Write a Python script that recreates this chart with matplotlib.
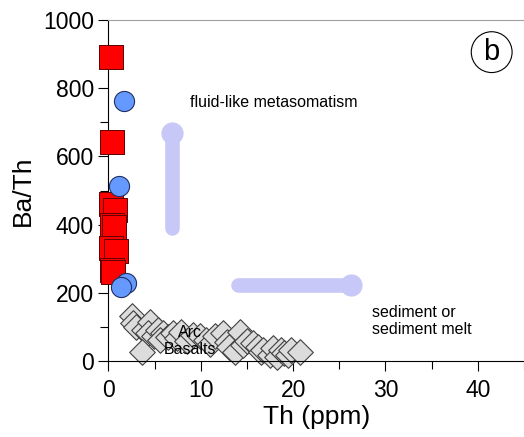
import matplotlib
matplotlib.use("Agg")
import matplotlib.pyplot as plt
from matplotlib.ticker import MultipleLocator

plt.rcParams['font.family'] = ['Liberation Sans', 'DejaVu Sans']

# Red squares
sq_th = [0.3, 0.4, 0.3, 0.7, 0.4, 0.6, 0.3, 0.8, 0.4, 0.5]
sq_bath = [893, 642, 460, 443, 400, 392, 330, 322, 268, 262]

# Blue circles
ci_th = [1.7, 1.15, 1.9, 1.35]
ci_bath = [762, 513, 228, 216]

# Arc basalts (grey diamonds)
ab_th = [2.5, 2.7, 3.0, 3.8, 4.5, 4.3, 3.6, 4.9, 5.4, 5.9, 5.6, 6.5, 7.0, 7.4, 7.9,
         8.5, 9.2, 9.9, 10.6, 11.0, 11.5, 12.4, 12.8, 13.0, 13.7, 14.2, 14.6, 15.0,
         15.7, 16.2, 16.5, 16.7, 17.5, 17.8, 18.2, 18.7, 19.0, 19.4, 19.8, 20.7]
ab_bath = [132, 110, 100, 91, 115, 81, 27, 72, 91, 81, 62, 70, 81, 66, 86,
           60, 76, 72, 62, 50, 72, 81, 57, 40, 27, 86, 47, 60,
           52, 42, 25, 32, 18, 37, 13, 32, 22, 18, 32, 27]

fig = plt.figure(figsize=(5.24, 4.37), dpi=100)
ax = fig.add_axes([0.207, 0.174, 0.793, 0.780])

lav = '#c8c8f8'
# vertical arrow (fluid-like metasomatism)
ax.plot([6.9, 6.9], [390, 665], color=lav, lw=10.5, solid_capstyle='round', zorder=1)
ax.plot([6.9], [668], marker='o', ms=15, color=lav, zorder=1)
# horizontal arrow (sediment)
ax.plot([14.0, 26.3], [222, 222], color=lav, lw=10.5, solid_capstyle='round', zorder=1)
ax.plot([26.3], [222], marker='o', ms=15, color=lav, zorder=1)

ax.scatter(ab_th, ab_bath, marker='D', s=170, facecolor='#dcdcdc',
           edgecolor='#404040', linewidth=0.8, zorder=2, clip_on=False)
ax.scatter(sq_th, sq_bath, marker='s', s=290, facecolor='#ff0000',
           edgecolor='#600000', linewidth=0.7, zorder=3, clip_on=False)
ax.scatter(ci_th, ci_bath, marker='o', s=210, facecolor='#6699ff',
           edgecolor='#203060', linewidth=0.8, zorder=4, clip_on=False)

ax.text(8.8, 757, 'fluid-like metasomatism', fontsize=11.5, va='center', ha='left')
ax.text(28.5, 118, 'sediment or\nsediment melt', fontsize=11.5, va='center', ha='left',
        linespacing=1.2)
ax.text(8.8, 58, 'Arc\nBasalts', fontsize=11.5, va='center', ha='center', zorder=5,
        linespacing=1.2)
ax.text(41.5, 906, 'b', fontsize=21, va='center', ha='center',
        bbox=dict(boxstyle='circle,pad=0.22', fc='white', ec='black', lw=0.8))

ax.set_xlim(0, 45)
ax.set_ylim(0, 1000)
ax.xaxis.set_major_locator(MultipleLocator(10))
ax.xaxis.set_minor_locator(MultipleLocator(5))
ax.yaxis.set_major_locator(MultipleLocator(200))
ax.yaxis.set_minor_locator(MultipleLocator(100))
ax.tick_params(which='major', direction='out', length=7, width=0.8, labelsize=16.5)
ax.tick_params(which='minor', direction='out', length=6, width=0.8)
ax.tick_params(axis='x', which='major', pad=6)
ax.spines['right'].set_visible(False)
ax.spines['top'].set_color('#a0a0a0')
ax.spines['left'].set_linewidth(0.8)
ax.spines['bottom'].set_linewidth(0.8)

ax.set_xlabel('Th (ppm)', fontsize=19, labelpad=2)
ax.set_ylabel('Ba/Th', fontsize=19, labelpad=6)

fig.savefig('out.png', dpi=100)
